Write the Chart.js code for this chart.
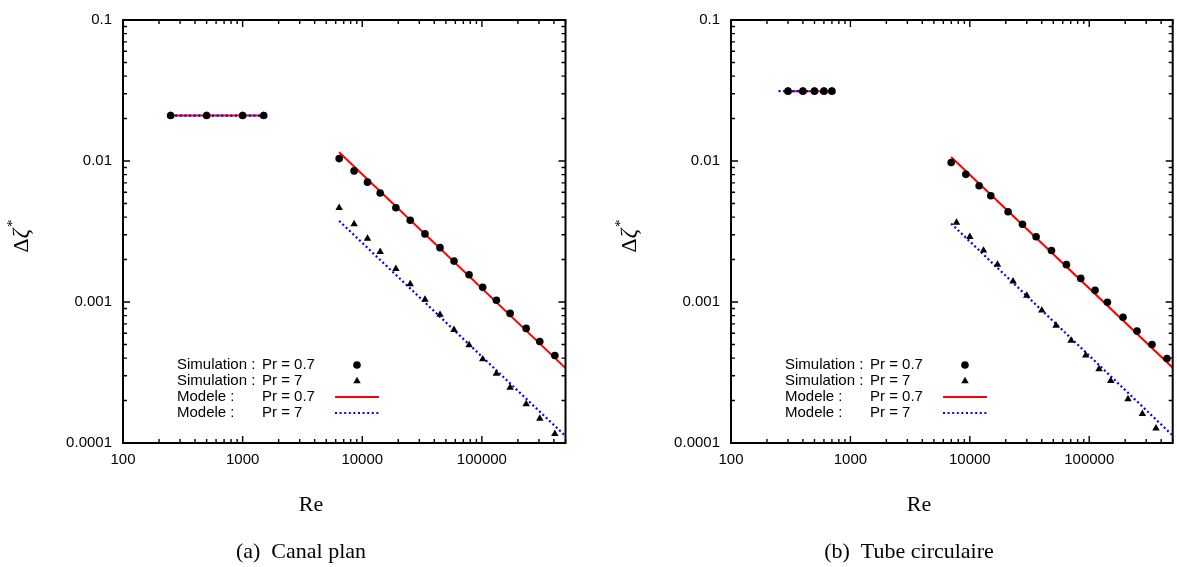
<!DOCTYPE html>
<html>
<head>
<meta charset="utf-8">
<script src="https://cdn.jsdelivr.net/npm/chart.js@4.4.0/dist/chart.umd.min.js"></script>
<style>
  html, body { margin: 0; background: #fff; }
  #wrap { position: relative; width: 1177px; height: 567px; overflow: hidden; }
  #wrap canvas { position: absolute; top: 0; }
  #canal { left: 0; }
  #tube { left: 588px; }
</style>
</head>
<body>
<div id="wrap">
  <canvas id="canal" width="588" height="567"></canvas>
  <canvas id="tube" width="589" height="567"></canvas>
</div>
<script>
// Δζ* en fonction de Re, canal plan (a) et tube circulaire (b), échelles log-log.
const SANS = '"Liberation Sans", Arial, Helvetica, sans-serif';
const SERIF = '"Liberation Serif", "Times New Roman", serif';

const xTicks = [100, 1000, 10000, 100000];
const yTicks = [0.0001, 0.001, 0.01, 0.1];

// (a) Canal plan
const canalReLow = [250, 500, 1000, 1500];
const canalSimLow07 = [0.021, 0.021, 0.021, 0.021];
const canalSimLow7 = [0.021, 0.021, 0.021, 0.021];
const canalRe = [6410, 8550, 11060, 14120, 19110, 25180, 33430, 44670, 58480, 78160, 101600, 132200, 172200, 234500, 304800, 407400];
const canalSim07 = [0.0104, 0.00851, 0.00708, 0.00593, 0.00466, 0.0038, 0.00304, 0.00243, 0.00195, 0.00156, 0.00127, 0.00103, 0.00083, 0.00065, 0.000525, 0.000417];
const canalSim7 = [0.00466, 0.00357, 0.00282, 0.00227, 0.00172, 0.00134, 0.00104, 0.000813, 0.000635, 0.000495, 0.000393, 0.000311, 0.000247, 0.000189, 0.000149, 0.000116];
const canalModLowRe07 = [250, 1500];
const canalModLow07 = [0.021, 0.021];
const canalModLowRe7 = [250, 1500];
const canalModLow7 = [0.021, 0.021];
const canalModRe07 = [6410, 500000];
const canalMod07 = [0.01155, 0.00034];
const canalModRe7 = [6410, 500000];
const canalMod7 = [0.00376, 0.000112];

// (b) Tube circulaire
const tubeReLow = [300, 400, 500, 600, 700];
const tubeSimLow07 = [0.0313, 0.0313, 0.0313, 0.0313, 0.0313];
const tubeSimLow7 = [0.0313, 0.0313, 0.0313, 0.0313, 0.0313];
const tubeRe07 = [6975, 9260, 11970, 14990, 20900, 27600, 35900, 48300, 64400, 84900, 111900, 142000, 191800, 251200, 335500, 447700];
const tubeSim07 = [0.00975, 0.00804, 0.00667, 0.00567, 0.00437, 0.00356, 0.0029, 0.00232, 0.00184, 0.00147, 0.00121, 0.000997, 0.000778, 0.000622, 0.0005, 0.000397];
const tubeRe7 = [7740, 10000, 13030, 17060, 23020, 30000, 40060, 52750, 70450, 93500, 120800, 151300, 211200, 278700, 362200];
const tubeSim7 = [0.00366, 0.0029, 0.00232, 0.00184, 0.0014, 0.00111, 0.000871, 0.000681, 0.000533, 0.000419, 0.000334, 0.000276, 0.000205, 0.000161, 0.000127];
const tubeModLowRe07 = [300, 700];
const tubeModLow07 = [0.0313, 0.0313];
const tubeModLowRe7 = [250, 700];
const tubeModLow7 = [0.0313, 0.0313];
const tubeModRe07 = [6975, 500000];
const tubeMod07 = [0.01067, 0.000342];
const tubeModRe7 = [6975, 500000];
const tubeMod7 = [0.0036, 0.000113];

const legendRows = [
  ["Simulation :", "Pr = 0.7", "circle"],
  ["Simulation :", "Pr = 7", "triangle"],
  ["Modele :", "Pr = 0.7", "red"],
  ["Modele :", "Pr = 7", "blue"]
];

const RED = "#ff0000";
const BLUE = "#0000ff";
const BLUE_DASH = [2, 2.6];

const pts = (xs, ys) => xs.map((x, i) => ({ x, y: ys[i] }));

function markers(xs, ys, style) {
  return {
    data: pts(xs, ys),
    showLine: false,
    pointStyle: style,
    pointRadius: style === "circle" ? 3.8 : 4.3,
    pointBackgroundColor: "#000",
    pointBorderColor: "#000",
    pointBorderWidth: 0
  };
}

function model(xs, ys, color, dash) {
  return {
    data: pts(xs, ys),
    showLine: true,
    pointRadius: 0,
    borderColor: color,
    borderWidth: color === RED ? 2 : 2.2,
    borderDash: dash || [],
    fill: false
  };
}

function drawSymbol(ctx, kind, x, y) {
  ctx.save();
  if (kind === "circle") {
    ctx.fillStyle = "#000";
    ctx.beginPath(); ctx.arc(x, y, 3.8, 0, Math.PI * 2); ctx.fill();
  } else if (kind === "triangle") {
    const r = 4.3;
    ctx.fillStyle = "#000";
    ctx.beginPath();
    ctx.moveTo(x, y - r);
    ctx.lineTo(x + r * Math.sqrt(3) / 2, y + r / 2);
    ctx.lineTo(x - r * Math.sqrt(3) / 2, y + r / 2);
    ctx.closePath(); ctx.fill();
  } else {
    ctx.strokeStyle = kind === "red" ? RED : BLUE;
    ctx.lineWidth = kind === "red" ? 2 : 2.2;
    ctx.setLineDash(kind === "red" ? [] : BLUE_DASH);
    ctx.beginPath(); ctx.moveTo(x - 22, y); ctx.lineTo(x + 22, y); ctx.stroke();
  }
  ctx.restore();
}

// cadre, graduations internes (style gnuplot), légende et titres
const decor = {
  id: "decor",
  afterDraw(chart, args, o) {
    const { ctx, chartArea: a, scales: { x, y } } = chart;
    ctx.save();
    ctx.strokeStyle = "#000";
    ctx.lineWidth = 1.4;
    ctx.beginPath();
    for (let e = 2; e <= 5; e++) {
      for (let m = 1; m <= 9; m++) {
        const v = m * Math.pow(10, e);
        if (v > x.max) continue;
        const px = x.getPixelForValue(v);
        const len = m === 1 ? 7 : 4;
        ctx.moveTo(px, a.bottom); ctx.lineTo(px, a.bottom - len);
        ctx.moveTo(px, a.top); ctx.lineTo(px, a.top + len);
      }
    }
    for (let e = -4; e <= -1; e++) {
      for (let m = 1; m <= 9; m++) {
        const v = m * Math.pow(10, e);
        if (v > y.max * 1.0001) continue;
        const py = y.getPixelForValue(v);
        const len = m === 1 ? 7 : 4;
        ctx.moveTo(a.left, py); ctx.lineTo(a.left + len, py);
        ctx.moveTo(a.right, py); ctx.lineTo(a.right - len, py);
      }
    }
    ctx.stroke();
    ctx.lineWidth = 2;
    ctx.strokeRect(a.left, a.top, a.right - a.left, a.bottom - a.top);

    // légende
    ctx.fillStyle = "#000";
    ctx.font = "15px " + SANS;
    ctx.textBaseline = "middle";
    ctx.textAlign = "left";
    legendRows.forEach((row, i) => {
      const ly = a.bottom - 78 + i * 16;
      ctx.fillText(row[0], a.left + 54, ly);
      ctx.fillText(row[1], a.left + 139, ly);
      drawSymbol(ctx, row[2], a.left + 234, ly);
    });

    // titre de l'axe y : Δζ*
    ctx.save();
    ctx.translate(a.left - 101, 236);
    ctx.rotate(-Math.PI / 2);
    ctx.textBaseline = "middle";
    ctx.font = "22px " + SERIF;
    const wD = ctx.measureText("Δ").width;
    ctx.font = "italic 23px " + SERIF;
    const wZ = ctx.measureText("ζ").width;
    ctx.font = "15px " + SERIF;
    const wS = ctx.measureText("*").width;
    let tx = -(wD + wZ + wS + 2) / 2;
    ctx.textAlign = "left";
    ctx.font = "22px " + SERIF;
    ctx.fillText("Δ", tx, 0); tx += wD;
    ctx.font = "italic 23px " + SERIF;
    ctx.fillText("ζ", tx, 0); tx += wZ + 2;
    ctx.font = "15px " + SERIF;
    ctx.fillText("*", tx, -9);
    ctx.restore();

    // titre de l'axe x et légende de la sous-figure
    ctx.textAlign = "center";
    ctx.textBaseline = "alphabetic";
    ctx.font = "22px " + SERIF;
    ctx.fillText("Re", a.left + 188, 511);
    ctx.font = "22px " + SERIF;
    ctx.fillText(o.caption, a.left + 178, 558);
    ctx.restore();
  }
};

function makeChart(id, datasets, caption, yWidth, padRight) {
  return new Chart(document.getElementById(id), {
    type: "scatter",
    data: { datasets },
    plugins: [decor],
    options: {
      responsive: false,
      animation: false,
      events: [],
      layout: { padding: { left: 0, right: padRight, top: 12, bottom: 0 } },
      plugins: {
        legend: { display: false },
        tooltip: { enabled: false },
        decor: { caption }
      },
      scales: {
        x: {
          type: "logarithmic",
          min: 100,
          max: 500000,
          grid: { display: false, drawTicks: false },
          border: { display: false },
          ticks: { color: "#000", font: { family: SANS, size: 15 }, padding: 8, maxRotation: 0, autoSkip: false, callback: v => String(v) },
          afterBuildTicks: s => { s.ticks = xTicks.map(v => ({ value: v })); },
          afterFit: s => { s.height = 124; }
        },
        y: {
          type: "logarithmic",
          min: 0.0001,
          max: 0.1,
          grid: { display: false, drawTicks: false },
          border: { display: false },
          ticks: { color: "#000", font: { family: SANS, size: 15 }, padding: 11, autoSkip: false, callback: v => String(v) },
          afterBuildTicks: s => { s.ticks = yTicks.map(v => ({ value: v })); },
          afterFit: s => { s.width = yWidth; }
        }
      }
    }
  });
}

makeChart("canal", [
  markers(canalReLow, canalSimLow07, "circle"),
  markers(canalRe, canalSim07, "circle"),
  markers(canalReLow, canalSimLow7, "triangle"),
  markers(canalRe, canalSim7, "triangle"),
  model(canalModLowRe7, canalModLow7, BLUE, BLUE_DASH),
  model(canalModRe7, canalMod7, BLUE, BLUE_DASH),
  model(canalModLowRe07, canalModLow07, RED),
  model(canalModRe07, canalMod07, RED)
], "(a)  Canal plan", 123, 22.5);

makeChart("tube", [
  markers(tubeReLow, tubeSimLow07, "circle"),
  markers(tubeRe07, tubeSim07, "circle"),
  markers(tubeReLow, tubeSimLow7, "triangle"),
  markers(tubeRe7, tubeSim7, "triangle"),
  model(tubeModLowRe7, tubeModLow7, BLUE, BLUE_DASH),
  model(tubeModRe7, tubeMod7, BLUE, BLUE_DASH),
  model(tubeModLowRe07, tubeModLow07, RED),
  model(tubeModRe07, tubeMod07, RED)
], "(b)  Tube circulaire", 143, 4);
</script>
</body>
</html>
